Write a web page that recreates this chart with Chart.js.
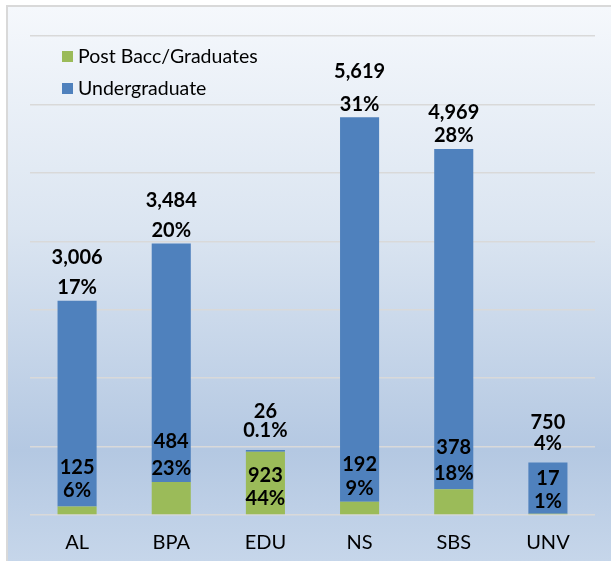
<!DOCTYPE html>
<html>
<head>
<meta charset="utf-8">
<script src="https://cdn.jsdelivr.net/npm/chart.js@4.4.1/dist/chart.umd.min.js"></script>
<style>
  html, body { margin: 0; padding: 0; background: #ffffff; overflow: hidden; }
  .frame {
    position: absolute;
    left: 6px;
    top: 5px;
    width: 605px;
    height: 556px;
    border-left: 2px solid #d9d9d9;
    border-top: 2px solid #d9d9d9;
    box-sizing: border-box;
    background: linear-gradient(180deg, #f5f8fc 0%, #dbe5f1 40%, #b4c8e2 80%, #c6d6ea 100%);
  }
  #chart { position: absolute; left: 0; top: 0; }
</style>
</head>
<body>
<div class="frame"></div>
<canvas id="chart" width="611" height="571"></canvas>
<script>
const categories = ['AL', 'BPA', 'EDU', 'NS', 'SBS', 'UNV'];
const gradValues = [125, 484, 923, 192, 378, 17];
const undergradValues = [3006, 3484, 26, 5619, 4969, 750];
const gradShares = ['6%', '23%', '44%', '9%', '18%', '1%'];
const undergradShares = ['17%', '20%', '0.1%', '31%', '28%', '4%'];
const yTicks = [0, 1000, 2000, 3000, 4000, 5000, 6000, 7000];

// label placement, pixels from the stack top / bar base (two lines each)
const topLabelOffsets = [[-43, -13], [-43, -13], [-39, -20], [-46, -13], [-37, -14], [-40, -19]];
const innerLabelOffsets = [[-47, -24], [-73, -46], [-39, -16], [-50, -26], [-67, -41], [-36, -13]];

const fontFamily = 'Lato, "Open Sans", sans-serif';
const labelFont = 'bold 20px ' + fontFamily;

const barLabels = {
  id: 'barLabels',
  afterDatasetsDraw(chart) {
    const { ctx } = chart;
    const gradMeta = chart.getDatasetMeta(0);
    const ugMeta = chart.getDatasetMeta(1);
    ctx.save();
    ctx.font = labelFont;
    ctx.fillStyle = '#000000';
    ctx.textAlign = 'center';
    ctx.textBaseline = 'middle';
    categories.forEach((cat, i) => {
      const top = ugMeta.data[i];
      const base = gradMeta.data[i].base;
      const x = top.x;
      ctx.fillText(undergradValues[i].toLocaleString('en-US'), x, top.y + topLabelOffsets[i][0]);
      ctx.fillText(undergradShares[i], x, top.y + topLabelOffsets[i][1]);
      ctx.fillText(gradValues[i].toLocaleString('en-US'), x, base + innerLabelOffsets[i][0]);
      ctx.fillText(gradShares[i], x, base + innerLabelOffsets[i][1]);
    });
    ctx.restore();
  },
};

const boxLegend = {
  id: 'boxLegend',
  afterDraw(chart) {
    const { ctx } = chart;
    ctx.save();
    ctx.font = '19.5px ' + fontFamily;
    ctx.textBaseline = 'middle';
    ctx.textAlign = 'left';
    chart.data.datasets.forEach((ds, i) => {
      const y = 57 + i * 32;
      ctx.fillStyle = ds.backgroundColor;
      ctx.fillRect(62, y - 6, 11, 11);
      ctx.fillStyle = '#000000';
      ctx.fillText(ds.label, 78, y);
    });
    ctx.restore();
  },
};

new Chart(document.getElementById('chart'), {
  type: 'bar',
  data: {
    labels: categories,
    datasets: [
      {
        label: 'Post Bacc/Graduates',
        data: gradValues,
        backgroundColor: '#9bbb59',
        barPercentage: 0.415,
        categoryPercentage: 1,
      },
      {
        label: 'Undergraduate',
        data: undergradValues,
        backgroundColor: '#4f81bd',
        barPercentage: 0.415,
        categoryPercentage: 1,
      },
    ],
  },
  options: {
    responsive: false,
    animation: false,
    layout: { padding: { left: 30, right: 16, top: 36, bottom: 0 } },
    scales: {
      x: {
        stacked: true,
        grid: { display: false, drawTicks: false },
        border: { display: false },
        ticks: {
          padding: 16,
          color: '#000000',
          font: { family: fontFamily, size: 20 },
        },
      },
      y: {
        stacked: true,
        min: 0,
        max: 7000,
        afterBuildTicks(scale) {
          scale.ticks = yTicks.map((v) => ({ value: v }));
        },
        grid: { color: '#d9d9d9', lineWidth: 1.5, drawTicks: false },
        border: { display: false },
        ticks: { display: false },
      },
    },
    plugins: {
      legend: { display: false },
      tooltip: { enabled: false },
    },
  },
  plugins: [barLabels, boxLegend],
});
</script>
</body>
</html>
